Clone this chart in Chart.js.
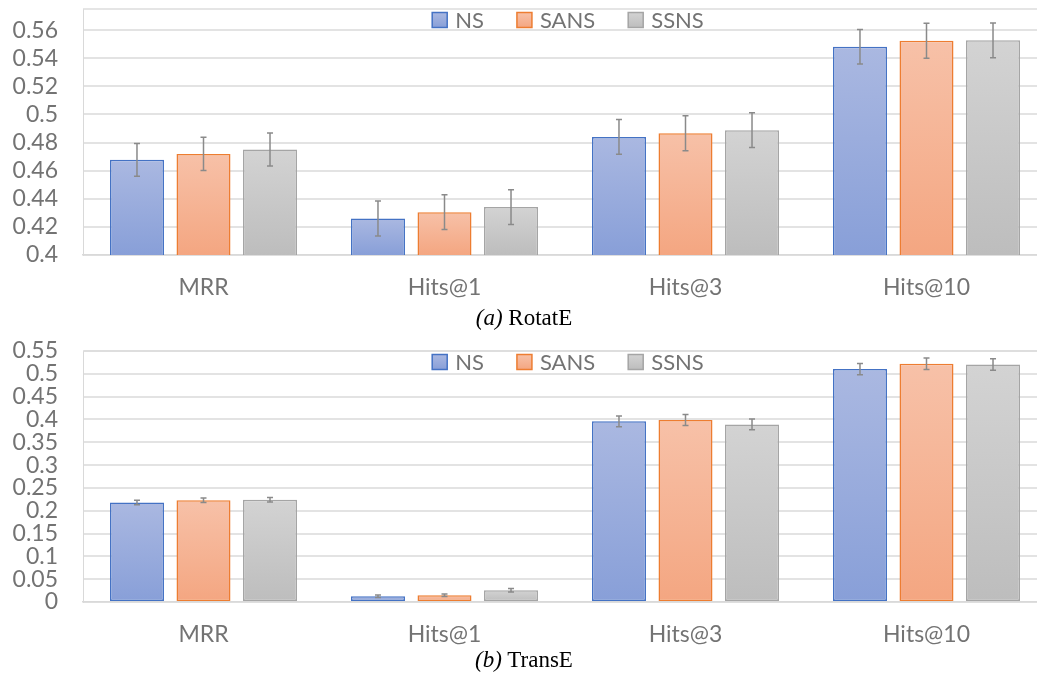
<!DOCTYPE html>
<html>
<head>
<meta charset="utf-8">
<script src="https://cdn.jsdelivr.net/npm/chart.js@4.4.1/dist/chart.umd.min.js"></script>
<style>
  html, body { margin: 0; padding: 0; background: #fff; overflow: hidden; }
  body { width: 1037px; height: 673px; position: relative; }
  .panel { position: absolute; left: 0; width: 1050px; }
  #top { top: 0; height: 307px; }
  #bottom { top: 330px; height: 324px; }
  .caption {
    position: absolute; left: 374px; width: 300px; text-align: center;
    font-family: "Liberation Serif", "DejaVu Serif", serif; font-size: 23px;
    line-height: 26px; color: #000;
  }
</style>
</head>
<body>
<div class="panel" id="top"><canvas id="rotate"></canvas></div>
<div class="panel" id="bottom"><canvas id="transe"></canvas></div>
<div class="caption" style="top:305px"><i>(a)</i> RotatE</div>
<div class="caption" style="top:647px"><i>(b)</i> TransE</div>
<script>
const categories = ["MRR", "Hits@1", "Hits@3", "Hits@10"];
const seriesNames = ["NS", "SANS", "SSNS"];

// (a) RotatE
const rotateNS = [0.4677, 0.4260, 0.4840, 0.5481];
const rotateSANS = [0.4719, 0.4305, 0.4866, 0.5524];
const rotateSSNS = [0.4750, 0.4341, 0.4888, 0.5527];
const rotateNSErr = [0.0117, 0.0124, 0.0124, 0.0123];
const rotateSANSErr = [0.0118, 0.0124, 0.0124, 0.0124];
const rotateSSNSErr = [0.0117, 0.0124, 0.0124, 0.0124];
const rotateTicks = [0.4, 0.42, 0.44, 0.46, 0.48, 0.5, 0.52, 0.54, 0.56];

// (b) TransE
const transeNS = [0.218, 0.0126, 0.3958, 0.5103];
const transeSANS = [0.223, 0.0148, 0.3987, 0.522];
const transeSSNS = [0.224, 0.0258, 0.3892, 0.5205];
const transeNSErr = [0.005, 0.003, 0.012, 0.0125];
const transeSANSErr = [0.005, 0.003, 0.012, 0.0128];
const transeSSNSErr = [0.005, 0.004, 0.012, 0.0126];
const transeTicks = [0, 0.05, 0.1, 0.15, 0.2, 0.25, 0.3, 0.35, 0.4, 0.45, 0.5, 0.55];

const FONT = "Lato, 'Open Sans', sans-serif";
const TEXT = "#737373";
const styles = [
  { top: "#aab8e1", bottom: "#889fd8", border: "#4472c4" },
  { top: "#f7c1a8", bottom: "#f4a681", border: "#ed7d31" },
  { top: "#d3d3d3", bottom: "#bdbdbd", border: "#a5a5a5" },
];

function barFill(st) {
  return (c) => {
    const chart = c.chart;
    if (!chart.chartArea || c.type !== "data") return st.top;
    const py = chart.scales.y.getPixelForValue(c.raw);
    const g = chart.ctx.createLinearGradient(0, py, 0, chart.chartArea.bottom);
    g.addColorStop(0, st.top);
    g.addColorStop(1, st.bottom);
    return g;
  };
}

const errorBars = {
  id: "errorBars",
  afterDatasetsDraw(chart) {
    const { ctx } = chart;
    const y = chart.scales.y;
    ctx.save();
    ctx.strokeStyle = "#8a8a8a";
    ctx.lineWidth = 1.5;
    chart.data.datasets.forEach((ds, i) => {
      chart.getDatasetMeta(i).data.forEach((bar, j) => {
        const hi = y.getPixelForValue(ds.data[j] + ds.errors[j]);
        const lo = y.getPixelForValue(ds.data[j] - ds.errors[j]);
        ctx.beginPath();
        ctx.moveTo(bar.x, hi); ctx.lineTo(bar.x, lo);
        ctx.moveTo(bar.x - 3, hi); ctx.lineTo(bar.x + 3, hi);
        ctx.moveTo(bar.x - 3, lo); ctx.lineTo(bar.x + 3, lo);
        ctx.stroke();
      });
    });
    ctx.restore();
  },
};

// top edge of the plot area (Excel draws a frame there)
const plotFrame = {
  id: "plotFrame",
  beforeDatasetsDraw(chart) {
    const { ctx, chartArea } = chart;
    ctx.save();
    ctx.strokeStyle = "#dcdcdc";
    ctx.lineWidth = 1.5;
    ctx.beginPath();
    ctx.moveTo(chartArea.left, chartArea.top);
    ctx.lineTo(chartArea.right, chartArea.top);
    ctx.stroke();
    ctx.restore();
  },
};

// legend sits inside the plot area, like Excel's
const insideLegend = {
  id: "insideLegend",
  afterDraw(chart) {
    const { ctx, chartArea } = chart;
    const box = 15, gapText = 8, gapItem = 33;
    ctx.save();
    ctx.font = "22px " + FONT;
    const widths = chart.data.datasets.map((ds) => ctx.measureText(ds.label).width);
    const total = widths.reduce((s, w) => s + box + gapText + w, 0) + gapItem * (widths.length - 1);
    let x = (chartArea.left + chartArea.right) / 2 + 3 - total / 2;
    const cy = chartArea.top + 11;
    chart.data.datasets.forEach((ds, i) => {
      const st = styles[i];
      const g = ctx.createLinearGradient(0, cy - box / 2, 0, cy + box / 2);
      g.addColorStop(0, st.top);
      g.addColorStop(1, st.bottom);
      ctx.fillStyle = g;
      ctx.fillRect(x, cy - box / 2, box, box);
      ctx.strokeStyle = st.border;
      ctx.lineWidth = 1.5;
      ctx.strokeRect(x, cy - box / 2, box, box);
      ctx.fillStyle = TEXT;
      ctx.textBaseline = "middle";
      ctx.textAlign = "left";
      ctx.fillText(ds.label, x + box + gapText, cy + 1);
      x += box + gapText + widths[i] + gapItem;
    });
    ctx.restore();
  },
};

function makeChart(id, series, errors, yMin, yMax, ticks, padTop) {
  return new Chart(document.getElementById(id), {
    type: "bar",
    plugins: [plotFrame, errorBars, insideLegend],
    data: {
      labels: categories,
      datasets: seriesNames.map((name, i) => ({
        label: name,
        data: series[i],
        errors: errors[i],
        backgroundColor: barFill(styles[i]),
        borderColor: styles[i].border,
        borderWidth: 1.5,
        borderSkipped: false,
        categoryPercentage: 0.828,
        barPercentage: 0.812,
      })),
    },
    options: {
      responsive: true,
      maintainAspectRatio: false,
      animation: false,
      layout: { padding: { top: padTop, right: 3, left: 0, bottom: 6 } },
      plugins: {
        legend: { display: false },
        tooltip: { enabled: false },
      },
      scales: {
        x: {
          grid: { display: false, drawTicks: false },
          border: { color: "#d9d9d9", width: 1.5 },
          ticks: { padding: 19, color: TEXT, font: { family: FONT, size: 23 } },
          afterFit(s) { s.height = 46; s.paddingLeft = 0; s.paddingRight = 0; },
        },
        y: {
          min: yMin,
          max: yMax,
          grid: { color: "#e3e3e3", lineWidth: 2, drawTicks: false },
          border: { color: "#d9d9d9", width: 1 },
          ticks: {
            padding: 25,
            autoSkip: false,
            color: TEXT,
            font: { family: FONT, size: 23 },
            callback: (v) => String(+Number(v).toFixed(2)),
          },
          afterBuildTicks(s) { s.ticks = ticks.map((v) => ({ value: v })); },
          afterFit(s) { s.width = 83; s.paddingTop = 0; s.paddingBottom = 0; },
        },
      },
    },
  });
}

makeChart("rotate",
  [rotateNS, rotateSANS, rotateSSNS],
  [rotateNSErr, rotateSANSErr, rotateSSNSErr],
  0.4, 0.575, rotateTicks, 9);

makeChart("transe",
  [transeNS, transeSANS, transeSSNS],
  [transeNSErr, transeSANSErr, transeSSNSErr],
  0, 0.55, transeTicks, 21);
</script>
</body>
</html>
